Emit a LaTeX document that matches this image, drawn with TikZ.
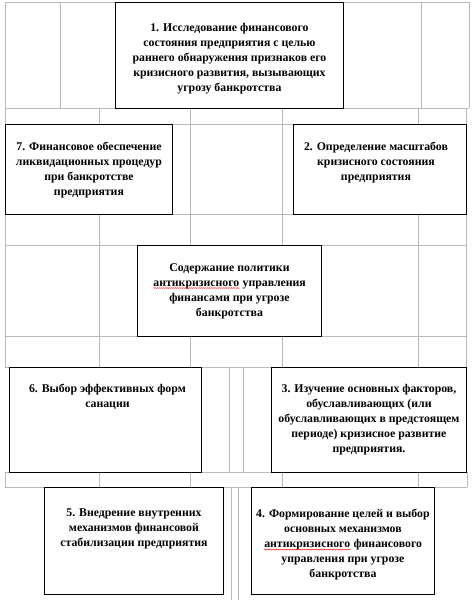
\documentclass[tikz,border=0pt]{standalone}
\usepackage{fontspec}
\setmainfont{Liberation Serif}
\usetikzlibrary{positioning,calc,decorations.pathmorphing}
\newcommand{\spellerr}[1]{\tikz[baseline=(w.base)]{\node[inner sep=0pt, anchor=base] (w) {#1};
  \draw[red, line width=0.35pt, decorate, decoration={snake, amplitude=0.5pt, segment length=2pt}]
    ([yshift=-2pt]w.base west) -- ([yshift=-2pt]w.base east);}}
\tikzset{
  grid/.style={draw=black!27, line width=0.6pt},
  box/.style={draw=black, fill=white, line width=0.9pt, inner sep=0pt, anchor=north west},
  txt/.style={font=\bfseries\fontsize{11.8}{15}\selectfont, align=center, inner sep=0pt, anchor=north}
}

\begin{document}
\begin{tikzpicture}[x=1pt,y=-1pt]
    \useasboundingbox (0,0) rectangle (474,600);

    % table grid behind the boxes
    \draw[grid] (5,2) -- (469,2) (5,108) -- (469,108);
    \draw[grid] (5,124) -- (466,124) (5,214) -- (466,214) (5,245) -- (466,245)
                (5,336) -- (466,336) (5,367) -- (466,367);
    \draw[grid] (5,472) -- (467,472) (5,487) -- (467,487);
    \draw[grid] (5,2) -- (5,367) (60,2) -- (60,108) (421,2) -- (421,108) (469,2) -- (469,108);
    \draw[grid] (99,108) -- (99,367) (190,108) -- (190,367) (282,108) -- (282,367)
                (418,108) -- (418,367) (466,108) -- (466,367);
    \draw[grid] (5,472) -- (5,487) (99,472) -- (99,487) (190,472) -- (190,487)
                (282,472) -- (282,487) (418,472) -- (418,487) (467,472) -- (467,487);
    \draw[grid] (229,367) -- (229,472) (243,367) -- (243,472);
    \draw[grid] (231,487) -- (231,600) (238,487) -- (238,600);

    \node[box, minimum width=228, minimum height=106] (sq1) at (115,2) {};
    \node[box, minimum width=167, minimum height=90] (sq7) at (5,124) {};
    \node[box, minimum width=173, minimum height=90] (sq2) at (293,124) {};
    \node[box, minimum width=184, minimum height=91] (main) at (137,245) {};
    \node[box, minimum width=192, minimum height=105] (sq6) at (9,367) {};
    \node[box, minimum width=195, minimum height=105] (sq3) at (271,367) {};
    \node[box, minimum width=179, minimum height=107] (sq5) at (44,487) {};
    \node[box, minimum width=183, minimum height=107] (sq4) at (251,487) {};

    \node[txt] (t1) at ($(sq1.north)+(0,21)$) {1. Исследование финансового\\ состояния предприятия с целью\\
      раннего обнаружения признаков его\\ кризисного развития, вызывающих\\ угрозу банкротства};
    \node[txt] (t7) at ($(sq7.north)+(0,18)$) {7. Финансовое обеспечение\\ ликвидационных процедур\\
      при банкротстве\\ предприятия};
    \node[txt] (t2) at ($(sq2.north)+(-4,18)$) {2. Определение масштабов\\ кризисного состояния\\ предприятия};
    \node[txt] (tm) at ($(main.north)+(0,18)$) {Содержание политики\\ \spellerr{антикризисного} управления\\
      финансами при угрозе\\ банкротства};
    \node[txt] (t6) at ($(sq6.north)+(2,17)$) {6. Выбор эффективных форм\\ санации};
    \node[txt] (t3) at ($(sq3.north)+(0,17)$) {3. Изучение основных факторов,\\ обуславливающих (или\\
      обуславливающих в предстоящем\\ периоде) кризисное развитие\\ предприятия.};
    \node[txt] (t5) at ($(sq5.north)+(0,22)$) {5. Внедрение внутренних\\ механизмов финансовой\\
      стабилизации предприятия};
    \node[txt] (t4) at ($(sq4.north)+(0,22)$) {4. Формирование целей и выбор\\ основных механизмов\\
      \spellerr{антикризисного} финансового\\ управления при угрозе\\ банкротства};
\end{tikzpicture}
\end{document}
